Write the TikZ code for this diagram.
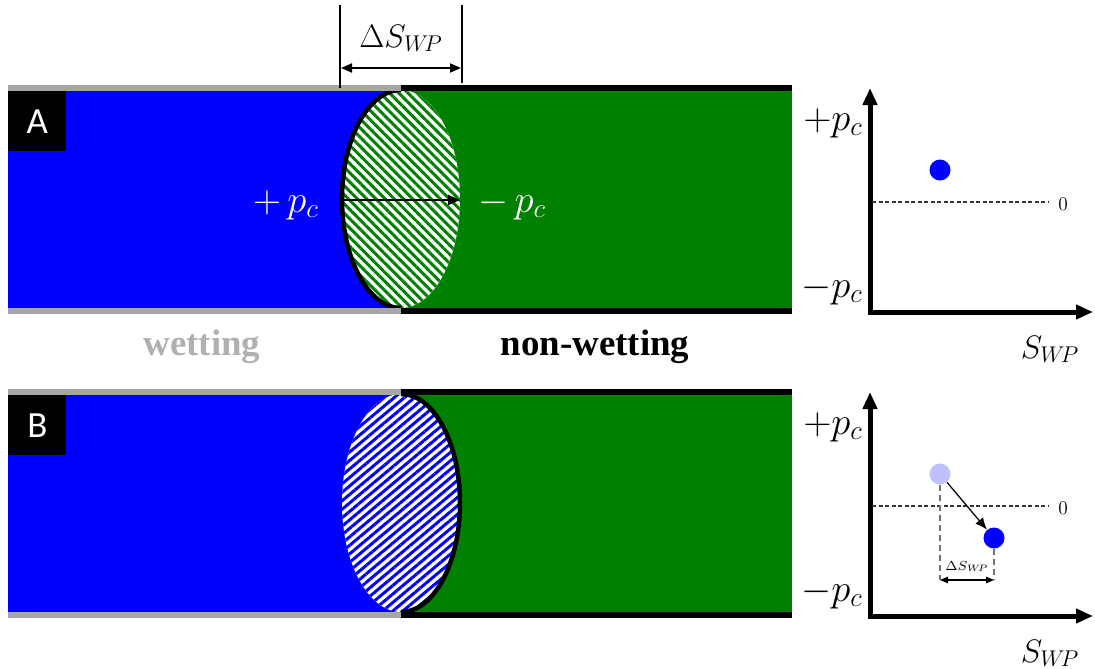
\documentclass[tikz,border=0pt]{standalone}
\usepackage{fix-cm}
\usepackage{fontspec}
\newfontfamily\timesfont{Liberation Serif}
\newfontfamily\labelfont{Carlito}
\usetikzlibrary{arrows.meta,patterns.meta}
\usepackage{xcolor}
\definecolor{tubeBlue}{HTML}{0000FF}
\definecolor{tubeGreen}{HTML}{008000}
\definecolor{wallGray}{HTML}{A6A6A6}
\definecolor{wetGray}{HTML}{B0B0B0}
\definecolor{dotPale}{HTML}{C0C0FF}

\begin{document}
\begin{tikzpicture}[x=0.2mm, y=0.2mm,
    wallwet/.style={draw=wallGray, line width=1.2mm},
    wallnon/.style={draw=black, line width=1.2mm},
    menisc/.style={draw=black, line width=0.9mm},
    panelbox/.style={fill=black, text=white, minimum width=11.6mm, minimum height=12mm,
                     inner sep=0pt, font=\labelfont\fontsize{21}{24}\selectfont},
    pc/.style={text=white, inner sep=0pt, font=\fontsize{22}{26}\selectfont},
    phase/.style={inner sep=0pt, font=\timesfont\bfseries\fontsize{21}{25}\selectfont},
    axis/.style={line width=1mm,
                 {Triangle[length=3.4mm,width=2.8mm]}-{Triangle[length=3.4mm,width=2.8mm]}},
    axlab/.style={inner sep=0pt, font=\fontsize{22}{26}\selectfont},
    swlab/.style={inner sep=0pt, font=\fontsize{18.5}{22}\selectfont},
    zeroline/.style={draw=black!80, line width=0.25mm, dash pattern=on 0.8mm off 0.5mm},
    dot/.style={circle, fill=tubeBlue, minimum size=4.2mm, inner sep=0pt},
    guide/.style={draw=black!55, line width=0.3mm, dash pattern=on 1.3mm off 0.7mm},
    dimarrow/.style={line width=0.4mm,
                 {Triangle[length=2.2mm,width=1.8mm]}-{Triangle[length=2.2mm,width=1.8mm]}},
    smalldim/.style={line width=0.25mm,
                 {Triangle[length=1.6mm,width=1.3mm]}-{Triangle[length=1.6mm,width=1.3mm]}},
  ]
    \useasboundingbox (0,0) rectangle (1095,-669);

    % ---------- los dos tubos (A arriba, B abajo) con su diagrama ----------
    \foreach \oy/\lbl/\ang/\col/\sa in {0/A/-45/tubeGreen/90, 304/B/40/tubeBlue/-90}{
      \begin{scope}[yshift=-\oy*0.2mm]
        \fill[tubeBlue]  (8,-88)   rectangle (401,-311);
        \fill[tubeGreen] (401,-88) rectangle (792,-311);

        % menisco rayado
        \coordinate (m\lbl) at (401,-199);
        \path[preaction={fill=white},
              pattern={Lines[angle=\ang, distance=3.7pt, line width=1.7pt]}, pattern color=\col]
          (m\lbl) ellipse [x radius=11.8mm, y radius=21.8mm];
        \draw[menisc] (m\lbl) ++(\sa:11.8mm and 21.8mm)
          arc[start angle=\sa, delta angle=180, x radius=11.8mm, y radius=21.8mm];

        % paredes
        \draw[wallwet] (8,-88)   -- (401,-88);
        \draw[wallwet] (8,-311)  -- (401,-311);
        \draw[wallnon] (401,-88) -- (792,-88);
        \draw[wallnon] (401,-311)-- (792,-311);

        \node[panelbox, anchor=north west] (box\lbl) at (8,-91) {\lbl};

        % ejes p_c contra S_WP
        \coordinate (o\lbl)  at (870,-312);
        \coordinate (yt\lbl) at (870,-88);
        \coordinate (xt\lbl) at (1093,-312);
        \draw[axis] (yt\lbl) -- (o\lbl) -- (xt\lbl);

        \node[axlab, anchor=base east] (pp\lbl) at (863,-130) {$+p_c$};
        \node[axlab, anchor=base east] (pm\lbl) at (863,-297) {$-p_c$};
        \node[swlab, anchor=base]      (sw\lbl) at (1050,-358) {$S_{W\!P}$};

        \coordinate (zl\lbl) at (872,-202);
        \coordinate (zr\lbl) at (1048,-202);
        \draw[zeroline] (zl\lbl) -- (zr\lbl);
        \node[inner sep=0pt, font=\fontsize{11}{13}\selectfont] (zero\lbl) at (1063,-204) {0};
      \end{scope}
    }

    % ---------- tubo A: presiones y salto de menisco ----------
    \node[pc, anchor=base] (pwA) at (286,-212) {$+\,p_c$};
    \node[pc, anchor=base] (pnA) at (512,-212) {$-\,p_c$};
    \coordinate (mlA) at (342,-200);
    \coordinate (mrA) at (460,-200);
    \draw[line width=0.45mm, -{Triangle[length=2.4mm,width=2mm]}] (mlA) -- (mrA);

    \coordinate (dlt) at (340,-5);
    \coordinate (dlb) at (340,-88);
    \coordinate (drt) at (462,-5);
    \coordinate (drb) at (462,-83);
    \draw[line width=0.4mm] (dlt) -- (dlb);
    \draw[line width=0.4mm] (drt) -- (drb);
    \coordinate (dal) at (341,-68);
    \coordinate (dar) at (461,-68);
    \draw[dimarrow] (dal) -- (dar);
    \node[swlab, anchor=base] (dsw) at (401,-47) {$\Delta S_{W\!P}$};

    \node[phase, text=wetGray, anchor=base] (wet)    at (202,-355) {wetting};
    \node[phase, anchor=base]               (nonwet) at (595,-355) {non-wetting};

    % ---------- puntos en el diagrama ----------
    \node[dot] (dotA) at (940,-170) {};

    \node[dot, fill=dotPale] (dotB0) at (940,-474) {};
    \node[dot]               (dotB)  at (994,-538) {};
    \draw[line width=0.25mm, -{Latex[length=2.4mm,width=2mm]}] (dotB0) -- (dotB);

    \coordinate (gl) at (940,-580);
    \coordinate (gr) at (994,-580);
    \draw[guide] (dotB0.south) -- (gl);
    \draw[guide] (dotB.south)  -- (gr);
    \draw[smalldim] (gl) -- (gr);
    \node[inner sep=0pt, anchor=base, font=\fontsize{7.5}{9}\selectfont] (dswB) at (967,-570) {$\Delta S_{W\!P}$};

  \end{tikzpicture}
\end{document}
